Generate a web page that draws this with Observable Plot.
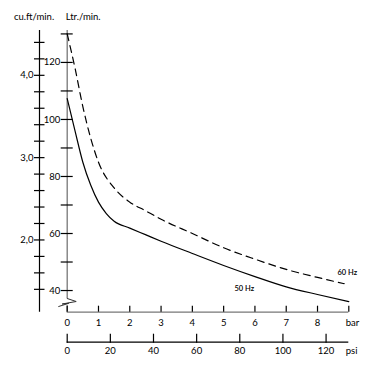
<!DOCTYPE html>
<html>
<head>
<meta charset="utf-8">
<script src="https://cdn.jsdelivr.net/npm/d3@7"></script>
<script src="https://cdn.jsdelivr.net/npm/@observablehq/plot@0.6"></script>
<style>
  html, body { margin: 0; padding: 0; background: #fff; }
  #chart { width: 377px; height: 365px; }
</style>
</head>
<body>
<div id="chart"></div>
<script>
// ---- data ----
const pressureBar50 = [0, 0.25, 0.5, 0.75, 1, 1.25, 1.5, 2, 2.5, 3, 4, 5, 6, 7, 8, 9];
const flow50 = [107.3, 96, 85, 77, 71, 67, 64.3, 61.9, 59.6, 57.3, 53, 48.8, 44.9, 41.3, 38.6, 36.1];
const pressureBar60 = [0, 0.25, 0.5, 0.75, 1, 1.5, 2, 2.5, 3, 4, 5, 6, 7, 8, 8.85];
const flow60 = [130, 118, 104.5, 93.5, 85, 76, 71, 68, 65, 60, 55, 51, 47.4, 44.6, 42.4];

const ltrMajorTicks = [40, 60, 80, 100, 120];
const ltrMinorTicks = [50, 70, 90, 110, 130];
const cuftTicks = [1.4, 1.6, 1.8, 2.0, 2.2, 2.4, 2.6, 2.8, 3.0, 3.2, 3.4, 3.6, 3.8, 4.0, 4.2, 4.4];
const cuftLabelTicks = [2.0, 3.0, 4.0];
const barTicks = [0, 1, 2, 3, 4, 5, 6, 7, 8, 9];
const barLabels = ["0", "1", "2", "3", "4", "5", "6", "7", "8"];
const psiTicks = [0, 20, 40, 60, 80, 100, 120];
const psiLabels = ["0", "20", "40", "60", "80", "100", "120"];
const curveLabels = [
  {label: "60 Hz", bar: 8.95, flow: 46.3},
  {label: "50 Hz", bar: 5.66, flow: 40.8}
];
const PSI_PER_BAR = 14.5038;
const LTR_PER_CUFT_DRAWN = 28.87; // as the two scales are drawn in the reference

// ---- layout ----
const W = 377, H = 365;
const mL = 66.7, mR = 28.7, mT = 30, mB = 53.3;
const xDomain = [0, 9];
const yDomain = [32.4, 131.2];
const pxPerBar = (W - mL - mR) / (xDomain[1] - xDomain[0]);
const pxPerL = (H - mT - mB) / (yDomain[1] - yDomain[0]);
const bx = px => px / pxPerBar;   // pixels -> bar units
const ly = px => px / pxPerL;     // pixels -> litre units
const yMin = yDomain[0], yMax = yDomain[1];
const cuX = -bx(27.7);            // cu.ft axis position
const psiY = yMin - ly(30);       // psi axis position

const series50 = pressureBar50.map((b, i) => ({bar: b, flow: flow50[i]}));
const series60 = pressureBar60.map((b, i) => ({bar: b, flow: flow60[i]}));
const barLabelData = barLabels.map((t, i) => ({bar: barTicks[i], text: t}));
const psiLabelData = psiLabels.map((t, i) => ({bar: psiTicks[i] / PSI_PER_BAR, text: t}));

const breakTop = yMin + ly(13.7);
const breakBottom = yMin + ly(6.5);
const zig = [
  {x: 0, y: breakTop},
  {x: bx(9), y: breakTop - ly(3)},
  {x: -bx(5), y: breakTop - ly(5.5)},
  {x: bx(1.5), y: breakTop - ly(4.8)},
  {x: -bx(8.5), y: breakTop - ly(8)}
];

const chart = Plot.plot({
  width: W, height: H,
  marginLeft: mL, marginRight: mR, marginTop: mT, marginBottom: mB,
  style: {fontFamily: "Lato, 'Open Sans', sans-serif", fontSize: "9.5px", background: "#fff", color: "#000", overflow: "visible"},
  x: {domain: xDomain, axis: null},
  y: {domain: yDomain, axis: null},
  marks: [
    // cu.ft/min axis
    Plot.ruleX([cuX], {y1: yMin, y2: yMax, stroke: "#000", strokeWidth: 1.2}),
    Plot.ruleY(cuftTicks, {y: c => c * LTR_PER_CUFT_DRAWN, x1: cuX - bx(5), x2: cuX + bx(5.5), stroke: "#000", strokeWidth: 1.2}),
    Plot.text(cuftLabelTicks, {x: cuX, y: c => c * LTR_PER_CUFT_DRAWN, text: c => c.toFixed(1).replace(".", ","), textAnchor: "end", dx: -6, fill: "#000"}),
    // Ltr/min axis
    Plot.ruleX([0], {y1: breakTop, y2: yMax, stroke: "#777", strokeWidth: 1.3}),
    Plot.ruleX([0], {y1: yMin, y2: breakBottom, stroke: "#777", strokeWidth: 1.3}),
    Plot.line(zig, {x: "x", y: "y", stroke: "#333", strokeWidth: 1}),
    Plot.ruleY(ltrMajorTicks.concat(ltrMinorTicks), {y: d => d, x1: -bx(6), x2: bx(6), stroke: "#000", strokeWidth: 1.2}),
    Plot.text(ltrMajorTicks, {x: 0, y: d => d, text: d => String(d), textAnchor: "end", dx: -7, fill: "#000"}),
    // bar axis
    Plot.ruleY([yMin], {x1: 0, x2: 9, stroke: "#777", strokeWidth: 1.3}),
    Plot.ruleX(barTicks, {x: d => d, y1: yMin, y2: yMin + ly(6), stroke: "#000", strokeWidth: 1.2}),
    Plot.text(barLabelData, {x: "bar", y: () => yMin, text: "text", dy: 10.5, textAnchor: "middle", fill: "#000"}),
    Plot.text(["bar"], {x: 9, y: yMin, text: d => d, dy: 10.5, dx: -3, textAnchor: "start", fill: "#000"}),
    // psi axis
    Plot.ruleY([psiY], {x1: 0, x2: 9, stroke: "#000", strokeWidth: 1.2}),
    Plot.ruleX(psiTicks, {x: p => p / PSI_PER_BAR, y1: psiY - ly(1), y2: psiY + ly(8), stroke: "#000", strokeWidth: 1.2}),
    Plot.text(psiLabelData, {x: "bar", y: () => psiY, text: "text", dy: 9, textAnchor: "middle", fill: "#000"}),
    Plot.text(["psi"], {x: 9, y: psiY, text: d => d, dy: 9, dx: -3, textAnchor: "start", fill: "#000"}),
    // axis titles
    Plot.text(["cu.ft/min."], {x: cuX, y: yMax, text: d => d, dy: -14, dx: -5.5, textAnchor: "middle", fill: "#000"}),
    Plot.text(["Ltr./min."], {x: 0, y: yMax, text: d => d, dy: -14, dx: -1.5, textAnchor: "start", fill: "#000"}),
    // curves
    Plot.line(series60, {x: "bar", y: "flow", curve: "monotone-x", stroke: "#000", strokeWidth: 1.2, strokeDasharray: "7,5"}),
    Plot.line(series50, {x: "bar", y: "flow", curve: "monotone-x", stroke: "#000", strokeWidth: 1.2}),
    Plot.text(curveLabels, {x: "bar", y: "flow", text: "label", fontSize: 7.5, fontWeight: 600, textAnchor: "middle", fill: "#000"})
  ]
});
document.getElementById("chart").appendChild(chart);
</script>
</body>
</html>
